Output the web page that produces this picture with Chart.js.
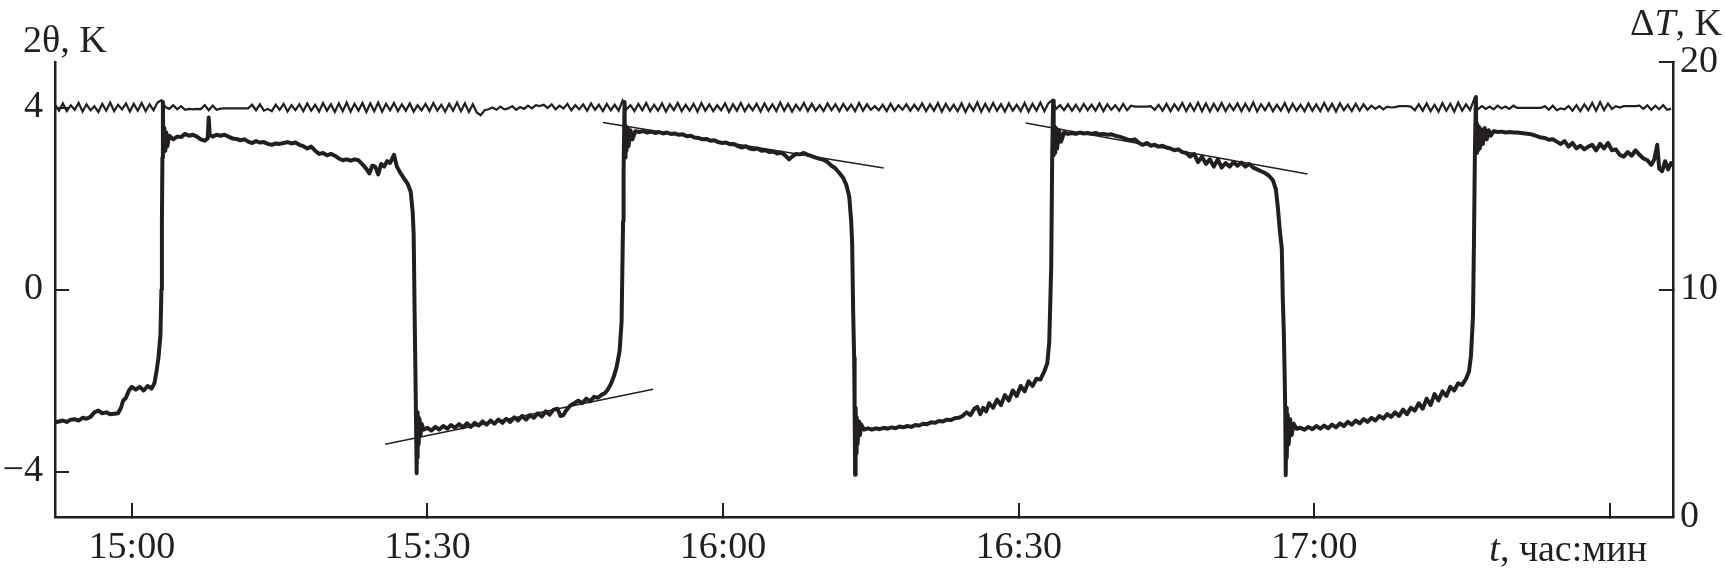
<!DOCTYPE html>
<html lang="ru">
<head>
    <meta charset="UTF-8">
    <title>2θ и ΔT</title>
    <script src="https://cdn.jsdelivr.net/npm/chart.js@4.4.1/dist/chart.umd.min.js"></script>
    <style>
        html, body { margin: 0; padding: 0; background: #fff; }
        #wrap { width: 1725px; height: 574px; }
    </style>
</head>
<body>
<div id="wrap">
    <canvas id="plot" width="1725" height="574"></canvas>
</div>
<script>
    // time axis: minutes counted from 15:00
    var xMin = -7.8;
    var xMax = 156.4;
    var xTickValues = [0, 30, 60, 90, 120, 150];
    var xTickLabels = ["15:00", "15:30", "16:00", "16:30", "17:00", ""];

    var thetaTicks = [-4, 0, 4];
    var dTTicks = [0, 10, 20];

    // 2θ, K  (thick trace)  [minute, value]
    var thetaPoints = [
        [-7.8,-2.92],[-7.4,-2.90],[-7.0,-2.88],[-6.6,-2.91],[-6.2,-2.86],[-5.8,-2.85],[-5.4,-2.88],[-5.0,-2.82],
        [-4.6,-2.84],[-4.2,-2.80],[-3.8,-2.70],[-3.4,-2.66],[-3.0,-2.72],[-2.6,-2.70],[-2.2,-2.74],[-1.8,-2.73],
        [-1.4,-2.72],[-1.1,-2.60],[-0.9,-2.45],[-0.6,-2.38],[-0.3,-2.22],[0.0,-2.14],[0.4,-2.20],[0.8,-2.14],
        [1.2,-2.22],[1.6,-2.12],[2.0,-2.18],[2.3,-2.05],[2.5,-1.80],[2.7,-1.50],[2.9,-1.00],[3.0,0.00],
        [3.05,1.50],[3.1,2.90],[3.15,4.12],[3.2,3.00],[3.3,3.55],[3.4,3.05],[3.5,3.45],[3.6,3.15],
        [3.8,3.38],[4.2,3.30],[4.6,3.36],[5.0,3.35],[5.4,3.42],[5.8,3.38],[6.2,3.40],[6.6,3.36],
        [7.0,3.30],[7.4,3.27],[7.7,3.32],[7.8,3.78],[7.9,3.40],[8.2,3.36],[8.6,3.40],[9.0,3.38],
        [9.4,3.40],[9.8,3.36],[10.2,3.32],[10.6,3.31],[11.0,3.28],[11.4,3.30],[11.8,3.25],[12.2,3.22],
        [12.6,3.26],[13.0,3.23],[13.4,3.24],[13.8,3.20],[14.2,3.18],[14.6,3.21],[15.0,3.20],[15.4,3.22],
        [15.8,3.24],[16.2,3.21],[16.6,3.23],[17.0,3.18],[17.4,3.15],[17.8,3.10],[18.2,3.14],[18.6,3.05],
        [19.0,2.98],[19.4,3.00],[19.8,2.95],[20.2,2.98],[20.6,2.94],[21.0,2.88],[21.4,2.84],[21.8,2.86],
        [22.2,2.83],[22.6,2.86],[23.0,2.84],[23.4,2.75],[23.8,2.65],[24.1,2.55],[24.4,2.72],[24.7,2.70],
        [25.0,2.53],[25.3,2.76],[25.6,2.70],[25.9,2.82],[26.2,2.78],[26.6,2.96],[26.9,2.70],[27.2,2.58],
        [27.6,2.45],[28.0,2.32],[28.3,2.15],[28.5,1.70],[28.6,1.20],[28.7,-0.60],[28.8,-2.20],[28.9,-4.04],
        [28.95,-2.70],[29.0,-3.70],[29.05,-2.80],[29.1,-3.40],[29.2,-2.85],[29.3,-3.20],[29.4,-2.95],[29.6,-3.08],
        [30.0,-3.04],[30.4,-3.10],[30.8,-3.02],[31.2,-3.08],[31.6,-3.00],[32.0,-3.06],[32.4,-2.98],[32.8,-3.04],
        [33.2,-2.96],[33.6,-3.03],[34.0,-2.94],[34.4,-3.02],[34.8,-2.93],[35.2,-2.99],[35.6,-2.90],[36.0,-2.97],
        [36.4,-2.88],[36.8,-2.95],[37.2,-2.86],[37.6,-2.93],[38.0,-2.84],[38.4,-2.91],[38.8,-2.81],[39.2,-2.88],
        [39.6,-2.78],[40.0,-2.86],[40.4,-2.76],[40.8,-2.82],[41.2,-2.72],[41.6,-2.79],[42.0,-2.68],[42.4,-2.75],
        [42.8,-2.64],[43.2,-2.62],[43.5,-2.78],[43.8,-2.76],[44.1,-2.65],[44.5,-2.55],[44.9,-2.50],[45.3,-2.44],
        [45.7,-2.50],[46.1,-2.40],[46.5,-2.46],[46.9,-2.36],[47.3,-2.38],[47.7,-2.31],[48.0,-2.28],[48.3,-2.20],
        [48.6,-2.08],[48.9,-1.92],[49.2,-1.70],[49.5,-1.35],[49.7,-0.70],[49.85,1.50],[49.9,2.60],[50.0,4.12],
        [50.05,2.90],[50.1,3.60],[50.2,3.05],[50.3,3.55],[50.4,3.15],[50.6,3.50],[50.8,3.30],[51.1,3.48],
        [51.5,3.46],[51.9,3.48],[52.3,3.45],[52.7,3.47],[53.1,3.44],[53.5,3.46],[53.9,3.43],[54.3,3.45],
        [54.7,3.42],[55.1,3.43],[55.5,3.40],[55.9,3.41],[56.3,3.37],[56.7,3.38],[57.1,3.34],[57.5,3.33],
        [57.9,3.30],[58.3,3.31],[58.7,3.27],[59.1,3.28],[59.5,3.24],[59.9,3.22],[60.3,3.23],[60.7,3.19],
        [61.1,3.20],[61.5,3.15],[61.9,3.12],[62.3,3.15],[62.7,3.10],[63.1,3.08],[63.5,3.10],[63.9,3.05],
        [64.3,3.06],[64.7,3.02],[65.1,3.03],[65.5,2.99],[65.9,3.01],[66.3,2.95],[66.7,2.86],[67.0,2.92],
        [67.4,2.98],[67.8,2.97],[68.2,3.00],[68.6,2.96],[69.0,2.93],[69.4,2.90],[69.8,2.87],[70.2,2.85],
        [70.6,2.80],[71.0,2.72],[71.4,2.66],[71.8,2.56],[72.2,2.45],[72.5,2.30],[72.8,2.05],[73.0,1.50],
        [73.1,1.00],[73.2,-0.50],[73.3,-1.50],[73.35,-2.70],[73.4,-4.07],[73.45,-2.60],[73.5,-3.60],[73.55,-2.80],
        [73.65,-3.40],[73.8,-2.90],[73.9,-3.20],[74.0,-2.96],[74.3,-3.08],[74.7,-3.05],[75.1,-3.08],[75.5,-3.05],
        [75.9,-3.07],[76.3,-3.04],[76.7,-3.06],[77.1,-3.03],[77.5,-3.05],[77.9,-3.01],[78.3,-3.03],[78.7,-3.00],
        [79.1,-3.02],[79.5,-2.98],[79.9,-2.99],[80.3,-2.95],[80.7,-2.96],[81.1,-2.92],[81.5,-2.93],[81.9,-2.89],
        [82.3,-2.90],[82.7,-2.86],[83.1,-2.87],[83.5,-2.83],[83.9,-2.82],[84.3,-2.78],[84.7,-2.70],[85.1,-2.76],
        [85.5,-2.62],[85.8,-2.58],[86.1,-2.74],[86.4,-2.60],[86.7,-2.68],[87.0,-2.50],[87.4,-2.60],[87.8,-2.42],
        [88.2,-2.54],[88.6,-2.32],[89.0,-2.44],[89.4,-2.22],[89.8,-2.34],[90.2,-2.12],[90.6,-2.24],[91.0,-2.02],
        [91.4,-2.12],[91.8,-1.96],[92.2,-1.98],[92.6,-1.80],[92.9,-1.62],[93.1,-1.15],[93.3,0.50],[93.4,3.00],
        [93.5,4.15],[93.55,2.95],[93.6,3.60],[93.7,3.00],[93.8,3.55],[93.9,3.10],[94.1,3.50],[94.3,3.25],
        [94.6,3.45],[95.0,3.42],[95.4,3.44],[95.8,3.42],[96.2,3.45],[96.6,3.43],[97.0,3.44],[97.4,3.42],
        [97.8,3.44],[98.2,3.41],[98.6,3.42],[99.0,3.40],[99.4,3.41],[99.8,3.38],[100.2,3.36],[100.6,3.33],
        [101.0,3.30],[101.4,3.28],[101.8,3.30],[102.2,3.22],[102.6,3.18],[103.0,3.22],[103.4,3.16],[103.8,3.18],
        [104.2,3.14],[104.6,3.16],[105.0,3.12],[105.4,3.10],[105.8,3.06],[106.2,3.08],[106.6,3.02],[107.0,3.00],
        [107.4,2.92],[107.8,2.98],[108.2,2.80],[108.6,2.92],[109.0,2.76],[109.4,2.86],[109.8,2.70],[110.2,2.86],
        [110.6,2.68],[111.0,2.78],[111.4,2.70],[111.8,2.80],[112.2,2.72],[112.6,2.79],[113.0,2.70],[113.4,2.76],
        [113.8,2.68],[114.2,2.64],[114.6,2.60],[115.0,2.56],[115.4,2.50],[115.8,2.40],[116.1,2.20],[116.3,1.80],
        [116.5,1.30],[116.7,0.90],[116.8,-0.20],[116.9,-0.90],[117.0,-2.00],[117.05,-2.70],[117.1,-4.08],[117.15,-2.60],
        [117.2,-3.70],[117.3,-2.75],[117.4,-3.40],[117.55,-2.85],[117.7,-3.20],[117.9,-2.95],[118.2,-3.06],[118.6,-3.04],
        [119.0,-3.08],[119.4,-3.02],[119.8,-3.07],[120.2,-3.00],[120.6,-3.06],[121.0,-2.99],[121.4,-3.05],[121.8,-2.97],
        [122.2,-3.03],[122.6,-2.94],[123.0,-3.00],[123.4,-2.91],[123.8,-2.97],[124.2,-2.88],[124.6,-2.94],[125.0,-2.85],
        [125.4,-2.91],[125.8,-2.82],[126.2,-2.88],[126.6,-2.78],[127.0,-2.84],[127.4,-2.74],[127.8,-2.80],[128.2,-2.70],
        [128.6,-2.78],[129.0,-2.64],[129.4,-2.74],[129.8,-2.60],[130.2,-2.66],[130.6,-2.50],[131.0,-2.62],[131.4,-2.40],
        [131.8,-2.54],[132.2,-2.30],[132.6,-2.44],[133.0,-2.24],[133.4,-2.34],[133.8,-2.14],[134.2,-2.22],[134.6,-2.06],
        [135.0,-2.10],[135.4,-1.96],[135.7,-1.80],[135.9,-1.45],[136.1,-0.60],[136.2,1.00],[136.3,3.10],[136.4,4.23],
        [136.45,3.00],[136.5,3.65],[136.6,3.05],[136.7,3.58],[136.8,3.10],[136.95,3.52],[137.1,3.20],[137.3,3.55],
        [137.5,3.30],[137.7,3.50],[137.9,3.38],[138.2,3.48],[138.6,3.46],[139.0,3.47],[139.4,3.45],[139.8,3.46],
        [140.2,3.45],[140.6,3.45],[141.0,3.44],[141.4,3.43],[141.8,3.42],[142.2,3.40],[142.6,3.37],[143.0,3.34],
        [143.4,3.33],[143.8,3.29],[144.2,3.30],[144.6,3.25],[145.0,3.20],[145.4,3.26],[145.8,3.14],[146.2,3.22],
        [146.6,3.10],[147.0,3.16],[147.4,3.08],[147.8,3.14],[148.2,3.18],[148.6,3.06],[149.0,3.20],[149.4,3.10],
        [149.8,3.22],[150.2,3.06],[150.6,3.08],[151.0,2.96],[151.4,2.92],[151.8,3.02],[152.2,2.94],[152.6,3.06],
        [153.0,2.96],[153.4,2.88],[153.8,2.84],[154.2,2.74],[154.5,2.86],[154.8,3.18],[155.0,2.66],[155.3,2.60],
        [155.6,2.82],[155.9,2.64],[156.2,2.78],[156.4,2.72]
    ];

    // ΔT, K  (thin trace), sampled every 0.4 min from xMin
    var dTStartMin = -7.8;
    var dTStepMin = 0.4;
    var dTValues = [
        18.12,17.86,18.18,17.84,18.10,17.90,18.20,17.82,18.14,17.88,18.06,17.80,18.16,17.86,18.22,17.84,18.12,17.92,18.18,17.82,
        18.16,17.86,18.20,17.84,18.14,17.88,18.22,18.32,18.02,17.94,18.10,17.92,18.06,17.90,17.94,17.92,17.94,17.93,18.10,17.88,
        18.08,17.90,17.95,17.96,17.96,17.96,17.96,17.96,17.96,17.96,18.12,17.88,18.14,17.86,17.94,17.84,18.12,17.90,18.16,17.82,
        18.10,17.88,18.14,17.84,18.18,17.86,18.12,17.82,18.20,17.86,18.14,17.80,18.18,17.84,18.22,17.82,18.16,17.86,18.20,17.80,
        18.18,17.84,18.22,17.82,18.16,17.88,18.20,17.84,18.14,17.86,18.18,17.82,18.10,17.88,18.16,17.84,18.20,17.86,18.12,17.82,
        18.16,17.86,18.22,17.84,18.18,17.80,18.14,17.78,17.66,17.88,17.92,18.00,17.90,18.04,17.92,17.96,18.06,17.90,18.02,17.94,
        18.08,17.96,18.10,18.06,18.12,17.98,18.14,17.92,18.08,17.96,18.16,17.88,18.10,17.92,18.14,17.86,18.18,17.90,18.12,17.84,
        18.16,17.88,18.12,17.86,18.30,17.92,18.10,17.84,18.16,17.88,18.20,17.84,18.12,17.86,18.18,17.82,18.14,17.88,18.20,17.84,
        18.12,17.86,18.16,17.82,18.20,17.86,18.14,17.84,18.10,17.88,18.18,17.80,18.14,17.86,18.20,17.84,18.12,17.88,18.16,17.82,
        18.18,17.86,18.14,17.84,18.22,17.86,18.16,17.82,18.12,17.88,18.20,17.84,18.16,17.86,18.10,17.84,18.18,17.88,18.14,17.84,
        18.16,17.88,18.12,17.84,18.20,17.86,18.14,17.90,18.06,17.88,18.12,17.84,18.16,17.86,18.10,17.90,18.14,17.86,18.12,17.88,
        18.18,17.84,18.14,17.86,18.20,17.82,18.16,17.86,18.12,17.84,18.18,17.80,18.14,17.86,18.22,17.82,18.16,17.84,18.20,17.86,
        18.14,17.82,18.18,17.86,18.12,17.84,18.20,17.82,18.16,17.86,18.22,17.84,18.18,18.32,17.94,18.10,17.88,18.14,17.86,18.12,
        17.84,18.16,17.88,18.12,17.86,18.18,17.84,18.14,17.90,18.10,17.86,18.16,17.88,18.08,18.04,18.04,18.04,18.04,18.06,17.90,
        18.12,17.86,18.16,17.84,18.14,17.88,18.20,17.84,18.16,17.86,18.22,17.84,18.18,17.82,18.16,17.86,18.20,17.84,18.14,17.88,
        18.18,17.84,18.16,17.86,18.22,17.82,18.14,17.88,18.18,17.84,18.12,17.86,18.20,17.82,18.16,17.86,18.12,17.84,18.18,17.86,
        18.14,17.84,18.20,17.86,18.16,17.82,18.18,17.88,18.12,17.84,18.16,17.86,18.14,17.90,18.08,17.94,18.06,17.92,18.04,18.00,
        18.02,18.06,18.06,18.06,18.04,17.88,18.14,17.86,18.18,17.84,18.12,17.82,18.20,17.86,18.16,17.82,18.22,17.86,18.14,17.88,
        18.34,17.92,18.06,17.94,18.04,17.92,18.08,17.96,18.04,17.94,18.08,17.98,17.98,17.98,17.98,17.98,17.98,17.98,18.06,17.90,
        18.08,17.88,17.96,17.92,18.06,17.86,18.10,17.84,18.14,17.88,18.20,17.86,18.24,17.88,18.18,17.94,18.06,18.00,18.06,18.06,
        18.06,18.06,18.08,17.94,18.10,17.90,18.08,17.92,18.10,17.90,17.94
    ];

    // straight guide lines drawn over the 2θ trace
    var guideA = [[25.7, -3.40], [52.9, -2.19]];
    var guideB = [[47.8, 3.67], [76.3, 2.67]];
    var guideC = [[90.7, 3.66], [119.3, 2.54]];

    var ink = '#231f20';
    var serif = '"Liberation Serif", "Times New Roman", serif';

    function toXY(pairs) {
        return pairs.map(function (p) { return {x: p[0], y: p[1]}; });
    }

    var dTData = dTValues.map(function (v, i) {
        return {x: dTStartMin + i * dTStepMin, y: v};
    });

    // draws a row of text pieces, some in italic, ending or starting at x
    function drawPieces(ctx, pieces, x, y, align) {
        var total = 0;
        pieces.forEach(function (p) {
            ctx.font = (p[1] ? 'italic ' : '') + '38px ' + serif;
            total += ctx.measureText(p[0]).width;
        });
        var cx = align === 'right' ? x - total : x;
        pieces.forEach(function (p) {
            ctx.font = (p[1] ? 'italic ' : '') + '38px ' + serif;
            ctx.fillText(p[0], cx, y);
            cx += ctx.measureText(p[0]).width;
        });
    }

    var axisTitles = {
        id: 'axisTitles',
        afterDraw: function (chart) {
            var ctx = chart.ctx;
            ctx.save();
            ctx.fillStyle = ink;
            ctx.textBaseline = 'alphabetic';
            ctx.textAlign = 'left';
            drawPieces(ctx, [['2θ, K', false]], 23, 52, 'left');
            drawPieces(ctx, [['Δ', false], ['T', true], [', K', false]], 1722, 35, 'right');
            drawPieces(ctx, [['t', true], [', час:мин', false]], 1647, 561, 'right');
            ctx.restore();
        }
    };

    var tickGrid = {
        display: true,
        drawOnChartArea: false,
        drawTicks: true,
        tickLength: -14,
        color: ink,
        lineWidth: 2
    };
    var axisBorder = {display: true, color: ink, width: 2.5};

    Chart.defaults.font.family = serif;
    Chart.defaults.font.size = 38;
    Chart.defaults.color = ink;

    var plot = document.getElementById('plot').getContext('2d');
    var chart = new Chart(plot, {
        type: 'line',
        data: {
            datasets: [
                {
                    label: '2θ',
                    data: toXY(thetaPoints),
                    yAxisID: 'y',
                    borderColor: ink,
                    borderWidth: 4,
                    borderJoinStyle: 'round',
                    pointRadius: 0,
                    tension: 0
                },
                {
                    label: 'guide A',
                    data: toXY(guideA),
                    yAxisID: 'y',
                    borderColor: ink,
                    borderWidth: 1.5,
                    pointRadius: 0
                },
                {
                    label: 'guide B',
                    data: toXY(guideB),
                    yAxisID: 'y',
                    borderColor: ink,
                    borderWidth: 1.5,
                    pointRadius: 0
                },
                {
                    label: 'guide C',
                    data: toXY(guideC),
                    yAxisID: 'y',
                    borderColor: ink,
                    borderWidth: 1.5,
                    pointRadius: 0
                },
                {
                    label: 'ΔT',
                    data: dTData,
                    yAxisID: 'y2',
                    borderColor: ink,
                    borderWidth: 2.2,
                    pointRadius: 0,
                    tension: 0
                }
            ]
        },
        options: {
            responsive: false,
            animation: false,
            events: [],
            layout: {padding: {top: 62, left: 0, right: 0, bottom: 0}},
            plugins: {
                legend: {display: false},
                tooltip: {enabled: false}
            },
            scales: {
                x: {
                    type: 'linear',
                    min: xMin,
                    max: xMax,
                    afterBuildTicks: function (scale) {
                        scale.ticks = xTickValues.map(function (v) { return {value: v}; });
                    },
                    afterFit: function (scale) { scale.height = 57; },
                    ticks: {
                        autoSkip: false,
                        maxRotation: 0,
                        padding: 22,
                        callback: function (v) {
                            var i = xTickValues.indexOf(v);
                            return i < 0 ? '' : xTickLabels[i];
                        }
                    },
                    grid: tickGrid,
                    border: axisBorder
                },
                y: {
                    type: 'linear',
                    position: 'left',
                    min: -5,
                    max: 5,
                    afterBuildTicks: function (scale) {
                        scale.ticks = thetaTicks.map(function (v) { return {value: v}; });
                    },
                    afterFit: function (scale) { scale.width = 55; },
                    ticks: {
                        padding: 26,
                        callback: function (v) { return v < 0 ? '\u2212' + Math.abs(v) : String(v); }
                    },
                    grid: tickGrid,
                    border: axisBorder
                },
                y2: {
                    type: 'linear',
                    position: 'right',
                    min: 0,
                    max: 20,
                    afterBuildTicks: function (scale) {
                        scale.ticks = dTTicks.map(function (v) { return {value: v}; });
                    },
                    afterFit: function (scale) { scale.width = 52; },
                    ticks: {
                        padding: 21,
                        callback: function (v) { return String(v); }
                    },
                    grid: tickGrid,
                    border: axisBorder
                }
            }
        },
        plugins: [axisTitles]
    });
</script>
</body>
</html>
